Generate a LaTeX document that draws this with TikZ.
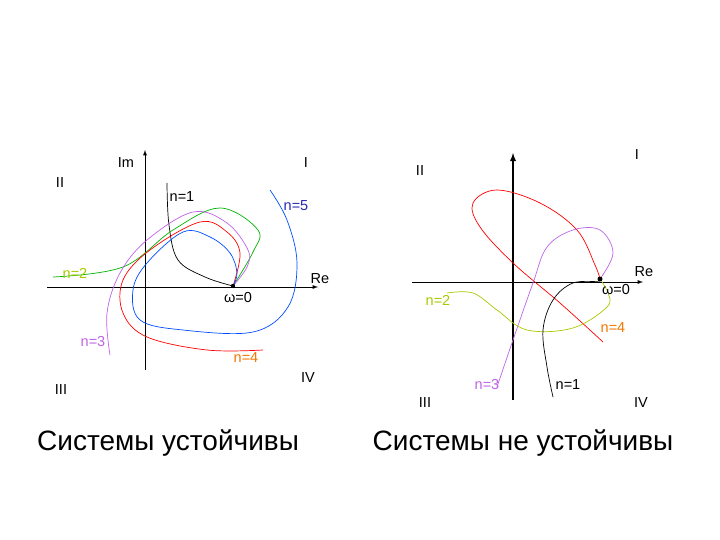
\documentclass[tikz,border=0pt]{standalone}
\usepackage{fontspec}
\setmainfont{Liberation Sans}
\begin{document}
\begin{tikzpicture}[x=1pt,y=-1pt,
 lbl/.style={font=\fontsize{14.5}{14.5}\selectfont,inner sep=0pt},
 captxt/.style={font=\fontsize{28}{28}\selectfont,inner sep=0pt},
 ax/.style={-latex,line width=0.9pt},
 crv/.style={line width=0.7pt}]
\definecolor{ygreen}{RGB}{170,200,0}
\definecolor{purp}{RGB}{190,100,230}
\definecolor{orng}{RGB}{240,120,0}
\definecolor{dblue}{RGB}{40,40,180}
\useasboundingbox (0,0) rectangle (720,540);
% left axes
\coordinate (lx0) at (47,287); \coordinate (lx1) at (318,287);
\coordinate (ly0) at (145,370); \coordinate (ly1) at (145,150);
\draw[ax] (lx0) -- (lx1);
\draw[ax] (ly0) -- (ly1);
\coordinate (w0) at (233,286);
\draw[crv,black] plot[smooth,tension=0.6] coordinates{(167,183) (169,225) (178,260) (205,277) (233,286)};
\draw[crv,green!70!black] plot[smooth,tension=0.6] coordinates{(53,277) (123,267) (173,230) (220,208) (258,230) (253,252) (233,286)};
\draw[crv,purp] plot[smooth,tension=0.6] coordinates{(110,355) (107,313) (120,273) (147,240) (193,212) (227,223) (248,250) (247,267) (233,286)};
\draw[crv,red] plot[smooth,tension=0.6] coordinates{(263,350) (207,350) (147,337) (123,313) (123,280) (150,250) (200,222) (227,232) (240,253) (233,286)};
\draw[crv,blue!70!cyan] plot[smooth,tension=0.6] coordinates{(270,190) (287,220) (297,263) (288,307) (253,332) (183,330) (140,320) (133,290) (147,263) (183,232) (210,237) (230,253) (237,273) (233,286)};
\fill (w0) circle (2.2pt);
\node[lbl] (im) at (126,163) {Im};
\node[lbl] (q1) at (306,163) {I};
\node[lbl] (q2) at (60,183) {II};
\node[lbl] (q3) at (61,390) {III};
\node[lbl] (q4) at (308,378) {IV};
\node[lbl] (re) at (320,279) {Re};
\node[lbl] (n1) at (182,197) {n=1};
\node[lbl,text=dblue] (n5) at (296,206) {n=5};
\node[lbl,text=ygreen] (n2) at (75,273) {n=2};
\node[lbl] (om) at (238,298) {ω=0};
\node[lbl,text=purp] (n3) at (93,342) {n=3};
\node[lbl,text=orng] (n4) at (246,358) {n=4};
% right axes
\coordinate (rx0) at (412,282); \coordinate (rx1) at (643,282);
\coordinate (ry0) at (513,400); \coordinate (ry1) at (513,153);
\draw[ax] (rx0) -- (rx1);
\draw[ax,line width=1.8pt] (ry0) -- (ry1);
\coordinate (w1) at (600,279);
\draw[crv,red] plot[smooth,tension=0.6] coordinates{(600,279) (595,265) (577,230) (540,203) (497,190) (473,203) (480,227) (513,263) (560,303) (603,342)};
\draw[crv,purp] plot[smooth,tension=0.6] coordinates{(600,279) (613,253) (600,230) (573,230) (547,247) (533,283) (513,340) (497,387)};
\draw[crv,ygreen] plot[smooth,tension=0.6] coordinates{(447,293) (473,293) (497,310) (527,330) (573,328) (607,307) (608,293) (600,279)};
\draw[crv,black] plot[smooth,tension=0.6] coordinates{(600,282) (573,283) (553,300) (543,330) (547,367) (553,397)};
\fill (w1) circle (2.5pt);
\node[lbl] (rq1) at (637,155) {I};
\node[lbl] (rq2) at (420,171) {II};
\node[lbl] (rre) at (644,272) {Re};
\node[lbl] (rom) at (616,290) {ω=0};
\node[lbl,text=ygreen] (rn2) at (438,300) {n=2};
\node[lbl,text=orng] (rn4) at (613,328) {n=4};
\node[lbl,text=purp] (rn3) at (487,385) {n=3};
\node[lbl] (rn1) at (568,385) {n=1};
\node[lbl] (rq3) at (425,403) {III};
\node[lbl] (rq4) at (641,403) {IV};
\node[captxt] (c1) at (168,443) {Системы устойчивы};
\node[captxt] (c2) at (523,443) {Системы не устойчивы};
\end{tikzpicture}
\end{document}
